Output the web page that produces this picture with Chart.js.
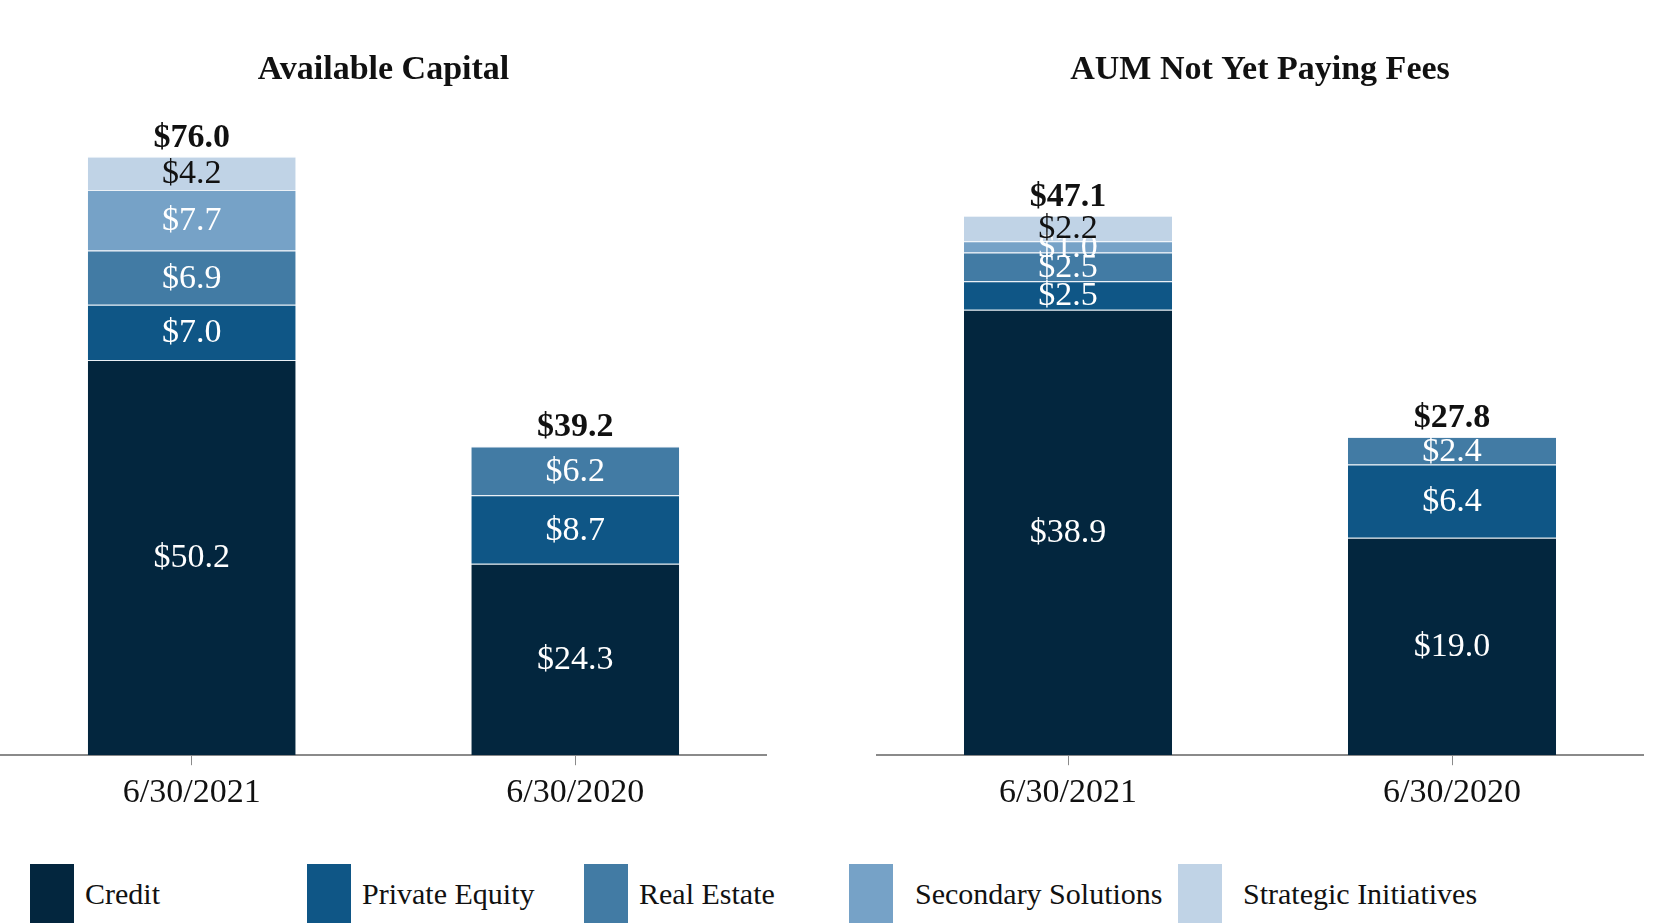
<!DOCTYPE html>
<html lang="en">

<head>
    <meta charset="UTF-8">
    <title>Available Capital / AUM Not Yet Paying Fees</title>
    <script src="https://cdn.jsdelivr.net/npm/chart.js@4.4.0/dist/chart.umd.min.js"></script>
    <style>
        body { margin: 0; background: #fff; width: 1653px; height: 923px; overflow: hidden; position: relative; font-family: "Liberation Serif", serif; }
        canvas { position: absolute; top: 0; }
        #left { left: 0; }
        #right { left: 876px; }
        .item { position: absolute; top: 864px; height: 59px; display: flex; align-items: center; font-size: 30px; color: #111; }
        .swatch { width: 44px; height: 59px; margin-right: 11px; }
    </style>
</head>

<body>
    <canvas id="left" width="767" height="820"></canvas>
    <canvas id="right" width="768" height="820"></canvas>
    <div id="legend"></div>
    <script>
        // data ($ billions)
        const categories = ["6/30/2021", "6/30/2020"];
        const seriesNames = ["Credit", "Private Equity", "Real Estate", "Secondary Solutions", "Strategic Initiatives"];

        const availCredit = [50.2, 24.3];
        const availPrivateEquity = [7.0, 8.7];
        const availRealEstate = [6.9, 6.2];
        const availSecondary = [7.7, null];
        const availStrategic = [4.2, null];
        const availTotals = [76.0, 39.2];

        const aumCredit = [38.9, 19.0];
        const aumPrivateEquity = [2.5, 6.4];
        const aumRealEstate = [2.5, 2.4];
        const aumSecondary = [1.0, null];
        const aumStrategic = [2.2, null];
        const aumTotals = [47.1, 27.8];

        const colors = ["#03263e", "#0f5686", "#427ba4", "#76a2c7", "#c0d3e6"];
        const labelColors = ["#fff", "#fff", "#fff", "#fff", "#111"];
        const legendX = [30, 307, 584, 849, 1178];
        const legendGap = [11, 11, 11, 22, 21];

        const serif = "'Liberation Serif', 'Times New Roman', serif";

        // draws the $ labels inside each segment and the totals on top
        const valueLabels = {
            id: "valueLabels",
            afterDatasetsDraw(chart, args, opts) {
                const ctx = chart.ctx;
                ctx.save();
                ctx.textAlign = "center";
                ctx.textBaseline = "middle";
                ctx.font = "34px " + serif;
                chart.data.datasets.forEach((ds, i) => {
                    const meta = chart.getDatasetMeta(i);
                    meta.data.forEach((bar, j) => {
                        const v = ds.data[j];
                        if (v == null) return;
                        ctx.fillStyle = labelColors[i];
                        ctx.fillText("$" + v.toFixed(1), bar.x, (bar.y + bar.base) / 2 + 1);
                    });
                });
                ctx.font = "bold 34px " + serif;
                ctx.fillStyle = "#111";
                opts.totals.forEach((t, j) => {
                    const x = chart.scales.x.getPixelForValue(j);
                    const y = chart.scales.y.getPixelForValue(t);
                    ctx.fillText("$" + t.toFixed(1), x, y - 19);
                });
                ctx.restore();
            }
        };

        function makeChart(id, title, series, totals, yMax) {
            const ctx = document.getElementById(id).getContext("2d");
            return new Chart(ctx, {
                type: "bar",
                data: {
                    labels: categories,
                    datasets: series.map((s, i) => ({
                        label: seriesNames[i],
                        data: s,
                        backgroundColor: colors[i],
                        borderColor: "rgba(190,210,228,0.3)",
                        borderWidth: { top: 1 },
                        borderSkipped: false,
                        barPercentage: 0.542,
                        categoryPercentage: 1
                    }))
                },
                options: {
                    responsive: false,
                    animation: false,
                    devicePixelRatio: 1,
                    layout: { padding: 0 },
                    plugins: {
                        legend: { display: false },
                        tooltip: { enabled: false },
                        title: {
                            display: true,
                            text: title,
                            color: "#111",
                            font: { family: serif, size: 34, weight: "bold" },
                            padding: { top: 50, bottom: 29 }
                        },
                        valueLabels: { totals: totals }
                    },
                    scales: {
                        x: {
                            stacked: true,
                            border: { display: true, color: "#8a8a8a", width: 2 },
                            grid: { display: true, drawOnChartArea: false, drawTicks: true, tickLength: 10, offset: false, color: "#8a8a8a" },
                            ticks: { color: "#111", padding: 7, font: { family: serif, size: 34 } }
                        },
                        y: {
                            stacked: true,
                            display: false,
                            min: 0,
                            max: yMax
                        }
                    }
                },
                plugins: [valueLabels]
            });
        }

        makeChart("left", "Available Capital",
            [availCredit, availPrivateEquity, availRealEstate, availSecondary, availStrategic], availTotals, 80.7);
        makeChart("right", "AUM Not Yet Paying Fees",
            [aumCredit, aumPrivateEquity, aumRealEstate, aumSecondary, aumStrategic], aumTotals, 55.5);

        // legend along the bottom
        const legend = document.getElementById("legend");
        seriesNames.forEach((name, i) => {
            const item = document.createElement("div");
            item.className = "item";
            item.style.left = legendX[i] + "px";
            const sw = document.createElement("div");
            sw.className = "swatch";
            sw.style.background = colors[i];
            sw.style.marginRight = legendGap[i] + "px";
            item.appendChild(sw);
            item.appendChild(document.createTextNode(name));
            legend.appendChild(item);
        });
    </script>
</body>

</html>
